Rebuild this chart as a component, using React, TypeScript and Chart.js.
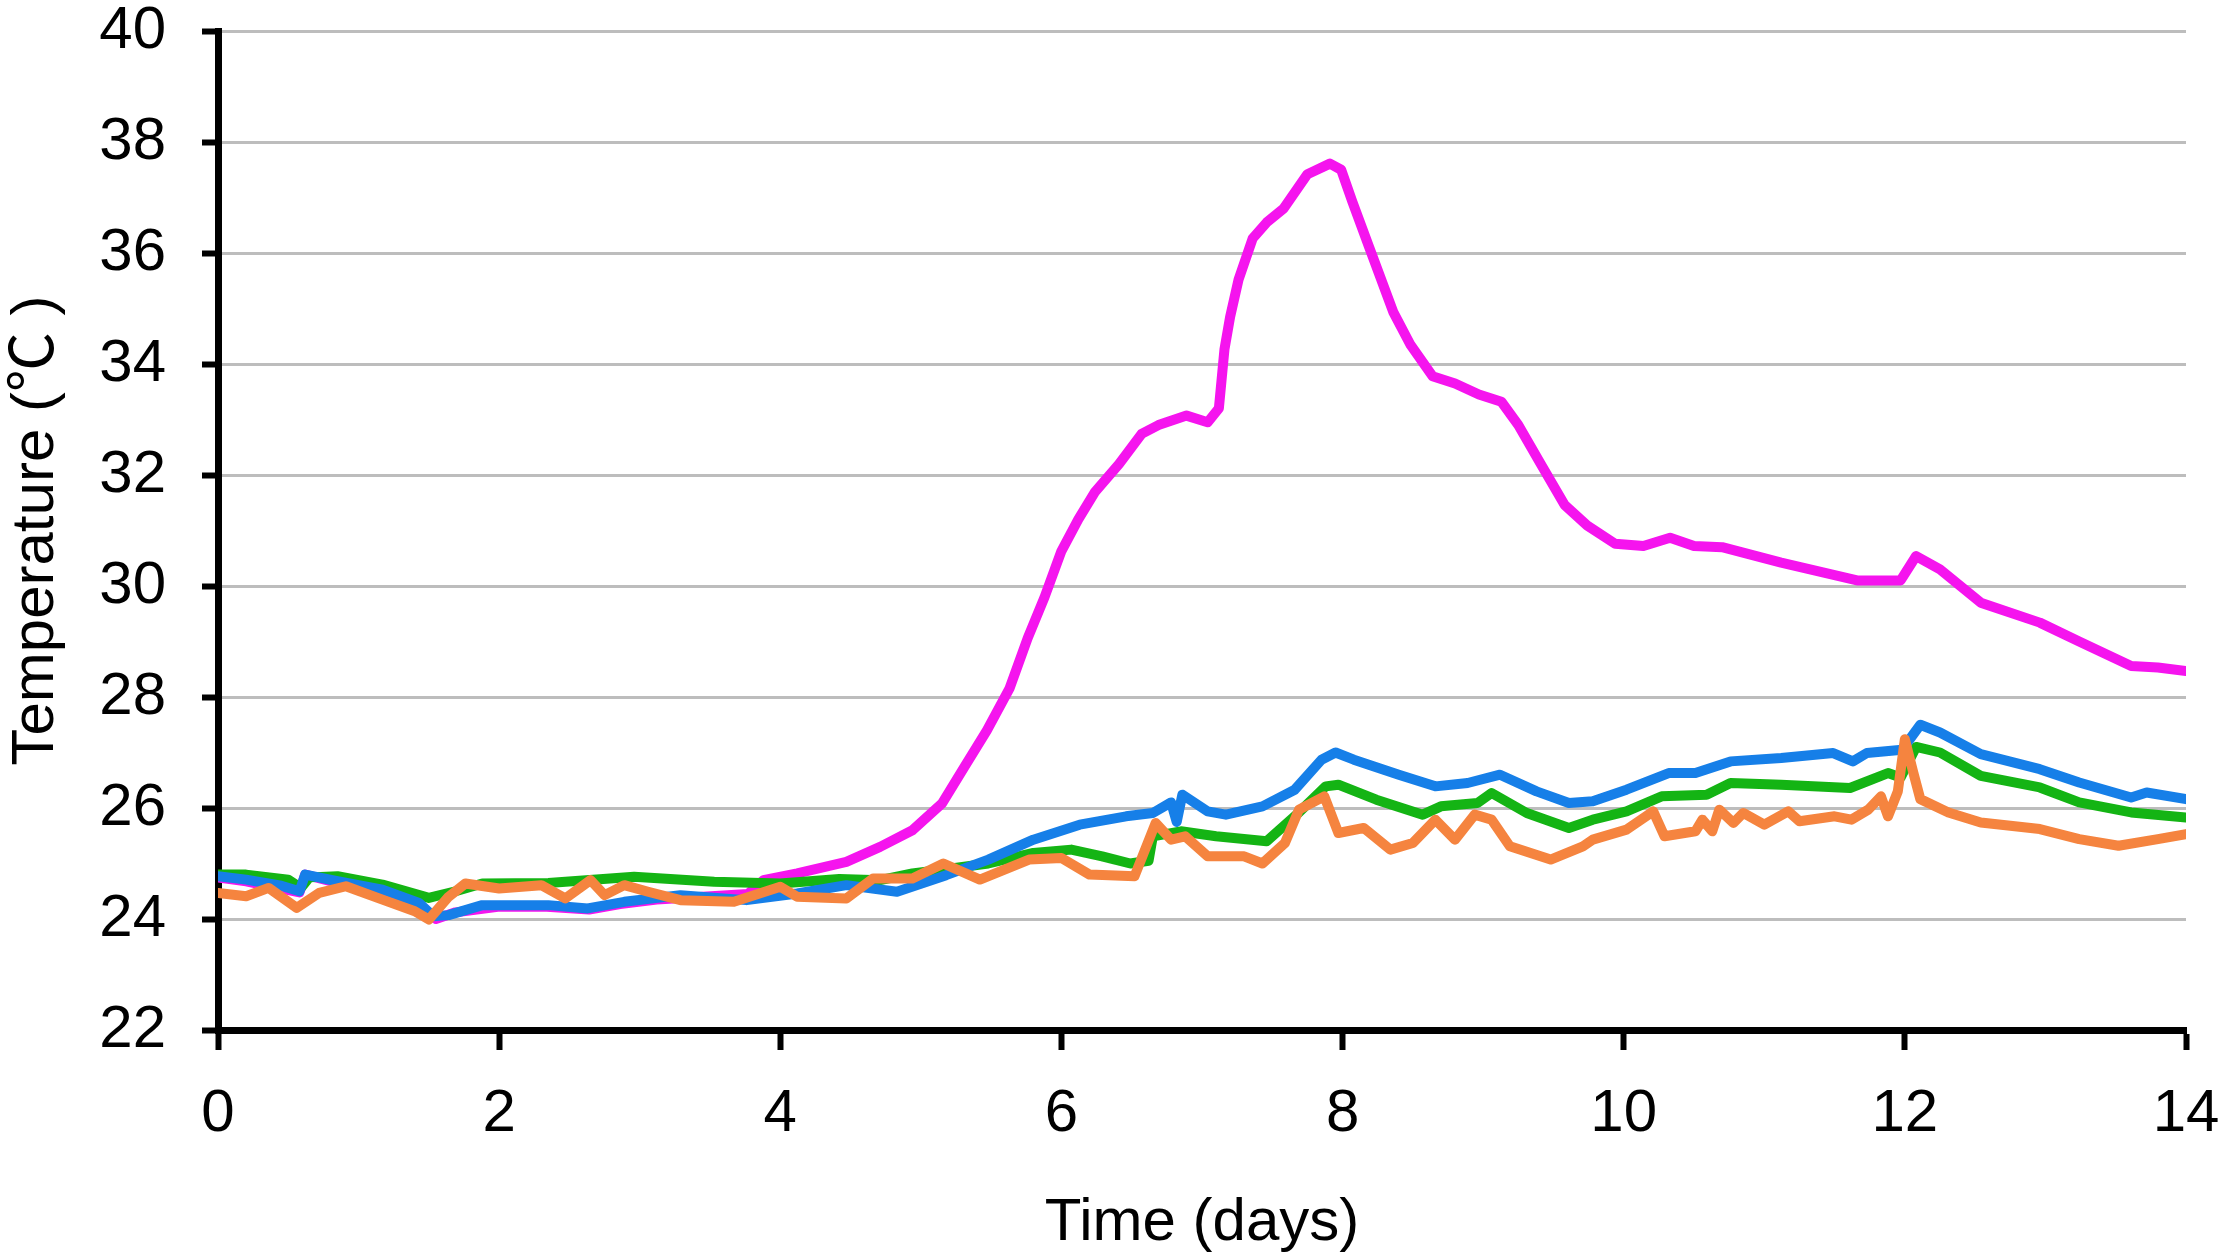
import { useEffect, useRef } from "react"
import { Chart, registerables } from "chart.js"

Chart.register(...registerables)

// values (days, °C)
const magentaDays = [
  0, 0.2, 0.58, 0.62, 0.85, 1.17, 1.43, 1.55, 1.69, 1.99, 2.34, 2.64, 2.86, 3.12, 3.45, 3.77, 3.88, 4.12, 4.47,
  4.71, 4.94, 5.15, 5.31, 5.47, 5.63, 5.76, 5.88, 6.0, 6.12, 6.24, 6.41, 6.57, 6.69, 6.89, 7.04, 7.12, 7.16,
  7.2, 7.26, 7.36, 7.46, 7.58, 7.75, 7.91, 7.99, 8.07, 8.19, 8.36, 8.48, 8.64, 8.8, 8.97, 9.13, 9.25, 9.41, 9.58,
  9.74, 9.94, 10.14, 10.33, 10.5, 10.7, 11.12, 11.66, 11.97, 12.08, 12.25, 12.54, 12.96, 13.24, 13.61, 13.8, 14.0,
]
const magentaTemps = [
  24.75, 24.68, 24.48, 24.8, 24.65, 24.5, 24.25, 24.0, 24.12, 24.22, 24.22, 24.17, 24.27, 24.35, 24.4, 24.45, 24.7,
  24.82, 25.03, 25.3, 25.6, 26.08, 26.74, 27.4, 28.15, 29.06, 29.8, 30.63, 31.2, 31.7, 32.2, 32.74, 32.9,
  33.07, 32.95, 33.2, 34.27, 34.85, 35.52, 36.26, 36.55, 36.8, 37.42, 37.61, 37.5, 36.92, 36.1, 34.94, 34.36, 33.78,
  33.65, 33.45, 33.32, 32.9, 32.2, 31.46, 31.09, 30.76, 30.72, 30.87, 30.72, 30.7, 30.42, 30.1, 30.1, 30.54, 30.3,
  29.7, 29.34, 29.0, 28.56, 28.53, 28.47,
]

const blueDays = [
  0, 0.2, 0.45, 0.58, 0.62, 0.85, 1.17, 1.43, 1.53, 1.64, 1.88, 2.35, 2.63, 2.89, 3.29, 3.76, 4.12, 4.47, 4.83,
  5.18, 5.48, 5.8, 6.13, 6.46, 6.65, 6.78, 6.82, 6.86, 7.04, 7.17, 7.43, 7.66, 7.85, 7.95, 8.08, 8.4, 8.66, 8.89,
  9.12, 9.38, 9.61, 9.78, 10.02, 10.32, 10.51, 10.76, 11.12, 11.49, 11.63, 11.73, 11.98, 12.11, 12.25, 12.54,
  12.96, 13.24, 13.61, 13.72, 14.0,
]
const blueTemps = [
  24.77, 24.71, 24.6, 24.5, 24.8, 24.68, 24.53, 24.29, 24.05, 24.07, 24.25, 24.25, 24.19, 24.31, 24.43, 24.34, 24.46,
  24.61, 24.49, 24.79, 25.07, 25.43, 25.7, 25.85, 25.91, 26.1, 25.75, 26.24, 25.94, 25.88, 26.03, 26.33, 26.87, 27.0,
  26.87, 26.6, 26.39, 26.45, 26.6, 26.3, 26.09, 26.12, 26.33, 26.63, 26.63, 26.84, 26.9, 26.99, 26.84, 26.99, 27.05,
  27.5, 27.36, 26.97, 26.7, 26.46, 26.19, 26.28, 26.16,
]

const greenDays = [
  0, 0.2, 0.5, 0.59, 0.65, 0.85, 1.17, 1.5, 1.69, 1.88, 2.35, 2.96, 3.53, 4.0, 4.42, 4.71, 4.94, 5.15, 5.48, 5.8,
  6.07, 6.29, 6.49, 6.62, 6.65, 6.85, 7.1, 7.46, 7.66, 7.88, 7.97, 8.24, 8.57, 8.7, 8.96, 9.06, 9.31, 9.61, 9.78,
  10.02, 10.27, 10.59, 10.76, 11.12, 11.61, 11.88, 11.97, 12.08, 12.25, 12.54, 12.96, 13.24, 13.61, 14.0,
]
const greenTemps = [
  24.8, 24.8, 24.71, 24.56, 24.75, 24.77, 24.62, 24.38, 24.5, 24.64, 24.65, 24.76, 24.67, 24.64, 24.72, 24.7, 24.82,
  24.89, 25.0, 25.19, 25.25, 25.13, 25.0, 25.05, 25.49, 25.58, 25.49, 25.4, 25.85, 26.39, 26.42, 26.15, 25.88, 26.03,
  26.09, 26.27, 25.91, 25.64, 25.79, 25.94, 26.21, 26.24, 26.45, 26.42, 26.36, 26.63, 26.55, 27.1, 27.0, 26.58,
  26.37, 26.1, 25.92, 25.83,
]

const orangeDays = [
  0, 0.2, 0.36, 0.56, 0.72, 0.91, 1.17, 1.4, 1.5, 1.64, 1.76, 2.0, 2.3, 2.47, 2.65, 2.75, 2.89, 3.06, 3.29, 3.67,
  4.0, 4.12, 4.47, 4.66, 4.94, 5.16, 5.42, 5.77, 6.0, 6.2, 6.52, 6.67, 6.78, 6.88, 7.04, 7.3, 7.43, 7.59, 7.69,
  7.87, 7.97, 8.15, 8.34, 8.5, 8.66, 8.8, 8.94, 9.06, 9.19, 9.48, 9.71, 9.78, 10.02, 10.21, 10.29, 10.51, 10.56,
  10.63, 10.68, 10.78, 10.85, 11.0, 11.17, 11.25, 11.5, 11.62, 11.74, 11.83, 11.88, 11.95, 12.0, 12.06, 12.11,
  12.31, 12.54, 12.96, 13.24, 13.52, 13.8, 14.0,
]
const orangeTemps = [
  24.47, 24.41, 24.56, 24.2, 24.47, 24.59, 24.35, 24.14, 23.99, 24.4, 24.64, 24.55, 24.61, 24.37, 24.7, 24.43, 24.61,
  24.49, 24.34, 24.31, 24.58, 24.4, 24.37, 24.73, 24.73, 25.0, 24.71, 25.07, 25.1, 24.8, 24.77, 25.73, 25.43, 25.49,
  25.13, 25.13, 25.0, 25.37, 25.97, 26.21, 25.55, 25.64, 25.25, 25.37, 25.79, 25.43, 25.88, 25.79, 25.31, 25.07,
  25.31, 25.43, 25.61, 25.94, 25.49, 25.58, 25.79, 25.58, 25.97, 25.73, 25.91, 25.7, 25.94, 25.76, 25.85, 25.79,
  25.97, 26.21, 25.85, 26.3, 27.24, 26.64, 26.16, 25.92, 25.74, 25.62, 25.44, 25.32, 25.44, 25.53,
]

const yTicks = [22, 24, 26, 28, 30, 32, 34, 36, 38, 40]
const xTicks = [0, 2, 4, 6, 8, 10, 12, 14]

const FONT = "'Liberation Sans', Arial, 'Noto Sans CJK SC', sans-serif"

function toPoints(days: number[], temps: number[]) {
  return days.map((d, i) => ({ x: d, y: temps[i] }))
}

function TemperatureChart() {
  const chartRef = useRef<HTMLCanvasElement>(null)
  const chartInstance = useRef<Chart | null>(null)

  useEffect(() => {
    if (!chartRef.current) return
    if (chartInstance.current) chartInstance.current.destroy()

    const ctx = chartRef.current.getContext("2d")
    if (!ctx) return

    const line = (label: string, color: string, data: { x: number; y: number }[], order: number) => ({
      label,
      data,
      borderColor: color,
      backgroundColor: color,
      borderWidth: 10,
      pointRadius: 0,
      tension: 0,
      borderJoinStyle: "round" as const,
      borderCapStyle: "round" as const,
      order,
    })

    chartInstance.current = new Chart(ctx, {
      type: "line",
      data: {
        datasets: [
          line("Series 1", "#f514ee", toPoints(magentaDays, magentaTemps), 4),
          line("Series 2", "#167fe8", toPoints(blueDays, blueTemps), 2),
          line("Series 3", "#14b414", toPoints(greenDays, greenTemps), 3),
          line("Series 4", "#f5843f", toPoints(orangeDays, orangeTemps), 1),
        ],
      },
      options: {
        animation: false,
        responsive: true,
        maintainAspectRatio: false,
        layout: { padding: { top: 31, right: 41, bottom: 0, left: 0 } },
        plugins: {
          legend: { display: false },
          tooltip: { enabled: false },
        },
        scales: {
          x: {
            type: "linear",
            min: 0,
            max: 14,
            afterBuildTicks: (scale) => {
              scale.ticks = xTicks.map((v) => ({ value: v }))
            },
            afterFit: (scale) => {
              scale.height = 229
              scale.paddingLeft = 0
              scale.paddingRight = 0
            },
            border: { display: true, color: "#000", width: 7 },
            grid: {
              drawOnChartArea: false,
              drawTicks: true,
              tickLength: 20,
              tickColor: "#000",
              tickWidth: 6,
            },
            ticks: {
              color: "#000",
              padding: 28,
              maxRotation: 0,
              font: { family: FONT, size: 60 },
            },
            title: {
              display: true,
              text: "Time (days)",
              color: "#000",
              padding: { top: 0, bottom: 0 },
              font: { family: FONT, size: 60 },
            },
          },
          y: {
            min: 22,
            max: 40,
            afterBuildTicks: (scale) => {
              scale.ticks = yTicks.map((v) => ({ value: v }))
            },
            afterFit: (scale) => {
              scale.width = 218
              scale.paddingTop = 0
              scale.paddingBottom = 0
            },
            border: { display: true, color: "#000", width: 7 },
            grid: {
              color: "#bdbdbd",
              lineWidth: 3,
              drawTicks: true,
              tickLength: 16,
              tickColor: "#000",
              tickWidth: 6,
            },
            ticks: {
              color: "#000",
              padding: 36,
              font: { family: FONT, size: 60 },
            },
            title: {
              display: true,
              text: "Temperature (℃ )",
              color: "#000",
              padding: { top: 0, bottom: 0 },
              font: { family: FONT, size: 60 },
            },
          },
        },
      },
    })

    return () => {
      if (chartInstance.current) {
        chartInstance.current.destroy()
        chartInstance.current = null
      }
    }
  }, [])

  return <canvas ref={chartRef} />
}

export default function App() {
  return (
    <div style={{ position: "fixed", left: 0, top: 0, width: 2227, height: 1259, background: "#fff" }}>
      <TemperatureChart />
    </div>
  )
}
